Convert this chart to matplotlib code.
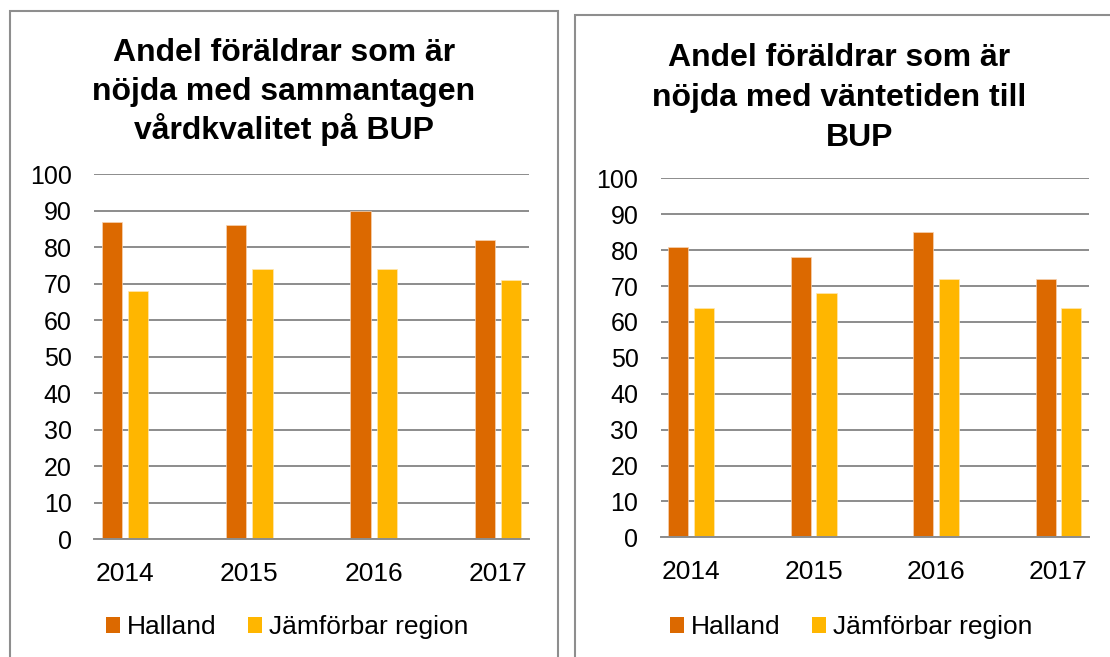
import matplotlib
matplotlib.use("Agg")
import matplotlib.pyplot as plt
from matplotlib.patches import Rectangle, Patch
import numpy as np

plt.rcParams['font.family'] = ['Liberation Sans', 'DejaVu Sans']

years = ["2014", "2015", "2016", "2017"]
series_names = ["Halland", "Jämförbar region"]
colors = ["#DC6900", "#FFB600"]

# Left chart: overall care quality
left_halland = [87, 86, 90, 82]
left_region = [68, 74, 74, 71]
left_title = ["Andel föräldrar som är", "nöjda med sammantagen", "vårdkvalitet på BUP"]

# Right chart: waiting time
right_halland = [81, 78, 85, 72]
right_region = [64, 68, 72, 64]
right_title = ["Andel föräldrar som är", "nöjda med väntetiden till", "BUP"]

W, H = 1110, 657
fig = plt.figure(figsize=(W / 100, H / 100), dpi=100)
fig.patch.set_facecolor("white")


def fx(x):
    return x / W


def fy(y):
    return 1 - y / H


# panel borders
border_col = "#8E8E8E"
fig.patches.append(Rectangle((fx(9.5), fy(700)), fx(557.7) - fx(9.5), fy(10.7) - fy(700),
                             transform=fig.transFigure, fill=False, edgecolor=border_col,
                             linewidth=1.5, clip_on=False))
fig.patches.append(Rectangle((fx(575.3), fy(700)), fx(1150) - fx(575.3), fy(14.5) - fy(700),
                             transform=fig.transFigure, fill=False, edgecolor=border_col,
                             linewidth=1.5, clip_on=False))


def draw(ax_box, hal, reg, legend_x):
    x0, y0, x1, y1 = ax_box
    ax = fig.add_axes([fx(x0), fy(y1), fx(x1) - fx(x0), fy(y0) - fy(y1)])
    x = np.arange(len(years))
    w = 0.164
    off = 0.105
    ax.bar(x - off, hal, width=w, color=colors[0], edgecolor="#F6D3B3", linewidth=0.5, zorder=3)
    ax.bar(x + off, reg, width=w, color=colors[1], edgecolor="#FFE7B0", linewidth=0.5, zorder=3)
    ax.set_xlim(-0.25, 3.25)
    ax.set_ylim(0, 100)
    ax.set_yticks(range(0, 101, 10))
    ax.set_xticks(x)
    ax.set_xticklabels(years)
    ax.tick_params(axis="y", length=0, pad=16, labelsize=18)
    ax.tick_params(axis="x", length=0, pad=16, labelsize=19)
    for s in ["top", "right", "left"]:
        ax.spines[s].set_visible(False)
    ax.spines["bottom"].set_color("#8C8C8C")
    ax.spines["bottom"].set_linewidth(1.4)
    ax.spines["bottom"].set_zorder(4)
    ax.grid(axis="y", color="#8C8C8C", linewidth=1.4, zorder=0)
    ax.set_axisbelow(True)
    handles = [Patch(facecolor=colors[0]), Patch(facecolor=colors[1])]
    fig.legend(handles, series_names, loc="center", bbox_to_anchor=(fx(legend_x), fy(627)),
               ncol=2, frameon=False, fontsize=19, handlelength=0.55, handleheight=0.55,
               handletextpad=0.25, columnspacing=1.2, borderaxespad=0)
    return ax


draw((94, 174.3, 529, 539.3), left_halland, left_region, 287)
draw((660.7, 178.3, 1089, 537.3), right_halland, right_region, 851)

for lines, xs, ys in [(left_title, [284, 284, 284], [61, 100, 139]),
                      (right_title, [839, 839, 860], [66, 106, 146])]:
    for line, tx, ty in zip(lines, xs, ys):
        fig.text(fx(tx), fy(ty), line, ha="center", va="baseline", fontsize=23,
                 fontweight="bold", color="black")

fig.savefig("out.png", dpi=100, facecolor="white")
